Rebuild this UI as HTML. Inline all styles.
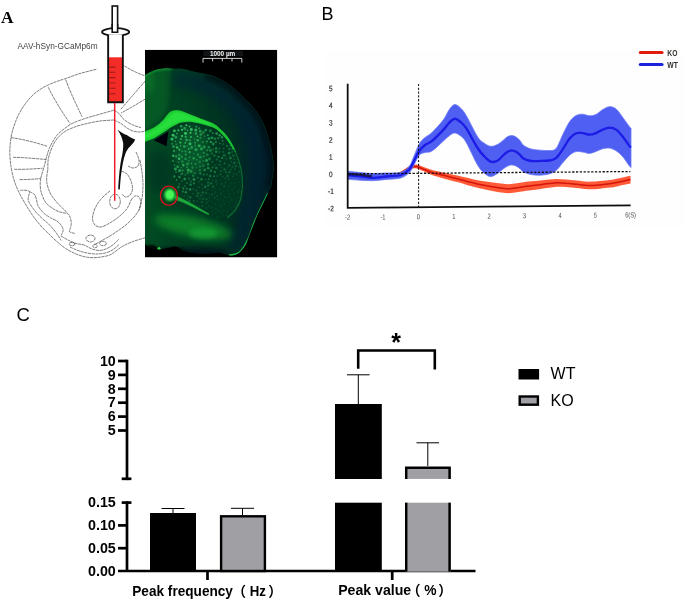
<!DOCTYPE html>
<html><head><meta charset="utf-8"><title>Figure</title>
<style>
html,body{margin:0;padding:0;background:#fff;}
body{width:685px;height:599px;overflow:hidden;font-family:"Liberation Sans","Noto Sans CJK SC",sans-serif;}
svg{display:block}
text{font-family:"Liberation Sans","Noto Sans CJK SC",sans-serif;}
.b{font-weight:bold}
.ser{font-family:"Liberation Serif",serif;font-weight:bold}
</style></head><body>
<svg width="685" height="599" viewBox="0 0 685 599">
<g id="panelA">
<text x="0.9" y="23.4" font-size="17.3" class="ser">A</text>
<text x="17.6" y="48.6" font-size="8.6" fill="#444" textLength="80" lengthAdjust="spacingAndGlyphs">AAV-hSyn-GCaMp6m</text>
<defs>
<clipPath id="mclip"><rect x="145" y="49.7" width="132.3" height="207.8"/></clipPath>
<filter id="b05" x="-20%" y="-20%" width="140%" height="140%"><feGaussianBlur stdDeviation="0.5"/></filter>
<filter id="b07" x="-20%" y="-20%" width="140%" height="140%"><feGaussianBlur stdDeviation="0.7"/></filter>
<filter id="b1" x="-20%" y="-20%" width="140%" height="140%"><feGaussianBlur stdDeviation="1"/></filter>
<filter id="b2" x="-30%" y="-30%" width="160%" height="160%"><feGaussianBlur stdDeviation="2"/></filter>
<filter id="b4" x="-40%" y="-40%" width="180%" height="180%"><feGaussianBlur stdDeviation="4"/></filter>
<filter id="b7" x="-50%" y="-50%" width="200%" height="200%"><feGaussianBlur stdDeviation="7"/></filter>
<linearGradient id="tg" x1="145" y1="0" x2="277" y2="0" gradientUnits="userSpaceOnUse">
<stop offset="0" stop-color="#054a22"/><stop offset="0.3" stop-color="#033d22"/><stop offset="0.7" stop-color="#012e24"/><stop offset="1" stop-color="#001e2a"/></linearGradient>
</defs>
<g fill="none" stroke="#343434" stroke-width="0.7" stroke-dasharray="3.2 0.6" opacity="0.9">
<path d="M96.3 69.3 C93.6 70.0 85.1 72.0 80.0 73.5 C74.9 75.0 70.0 77.0 65.7 78.5 C61.4 80.0 57.6 81.0 54.0 82.5 C50.4 84.0 47.1 85.3 43.8 87.2 C40.5 89.1 36.9 91.5 34.0 94.0 C31.1 96.5 28.6 99.5 26.3 102.5 C24.0 105.5 21.8 108.7 20.0 112.0 C18.2 115.3 16.7 118.5 15.3 122.3 C13.9 126.1 12.4 130.6 11.5 135.0 C10.6 139.4 10.1 144.2 9.9 148.5 C9.7 152.8 10.0 157.1 10.3 161.0 C10.7 164.9 11.2 168.3 12.0 172.0 C12.8 175.7 13.7 179.4 15.0 183.0 C16.3 186.6 17.9 190.1 19.7 193.8 C21.5 197.5 23.8 201.3 26.0 205.0 C28.2 208.7 30.3 212.2 32.8 215.7 C35.3 219.2 38.1 222.7 41.0 226.0 C43.9 229.3 47.6 232.7 50.4 235.4 C53.2 238.2 55.5 240.3 58.0 242.5 C60.5 244.7 62.7 246.6 65.7 248.5 C68.7 250.4 72.3 252.5 76.0 254.0 C79.7 255.5 83.8 256.8 87.6 257.3 C91.4 257.9 95.3 257.7 99.0 257.3 C102.7 256.9 106.7 256.1 109.5 255.1 C112.3 254.0 113.8 252.5 116.0 251.0 C118.2 249.5 119.8 247.9 122.6 246.3 C125.4 244.7 129.2 242.9 133.0 241.5 C136.8 240.1 143.5 238.2 145.6 237.6"/>
<path d="M113.9 110.2 C111.3 110.9 103.3 113.2 98.5 114.6 C93.7 116.0 89.4 117.0 85.0 118.5 C80.6 120.0 75.8 121.7 72.3 123.4 C68.8 125.2 66.6 127.0 64.0 129.0 C61.4 131.0 58.8 133.2 56.9 135.4 C55.0 137.6 53.8 139.8 52.5 142.0 C51.2 144.2 50.2 146.2 49.3 148.5 C48.3 150.8 47.5 153.4 46.8 156.0 C46.1 158.6 45.6 161.2 44.9 163.9 C44.2 166.6 43.2 169.6 42.5 172.0 C41.8 174.4 41.0 177.2 40.7 178.2"/>
<path d="M113.9 120.0 C111.6 120.2 104.4 120.4 100.0 121.0 C95.6 121.6 91.6 122.5 87.6 123.4 C83.6 124.3 79.7 125.2 76.0 126.5 C72.3 127.8 68.5 129.4 65.7 131.0 C63.0 132.6 61.3 134.2 59.5 136.0 C57.7 137.8 56.1 139.7 54.7 142.0 C53.3 144.3 52.1 147.1 51.0 150.0 C49.9 152.9 48.7 156.2 48.2 159.5 C47.7 162.8 47.9 168.2 47.8 170.0"/>
<path d="M48.2 87.2 C54 99 62 112 70 123.4M65.7 79.6 C70 92 77 106 82.1 116.8M11 137.6 C24 139.5 36 142.5 47 146.3M13.1 157.3 C24 157.5 35 158.5 46 159.5M14.2 169.3 C24 169.5 34 169 42.7 168.2M19.5 179.6 C27 179.6 34 179.2 40.5 178.6"/>
<path d="M20.2 190.4 C21.0 190.4 23.5 190.0 25.0 190.2 C26.5 190.4 28.8 190.5 29.4 191.5 C30.0 192.5 28.8 194.5 28.6 196.0 C28.4 197.5 27.8 198.9 28.4 200.7 C29.0 202.5 30.6 205.0 32.0 207.0 C33.4 209.0 34.9 210.9 36.6 212.9 C38.4 214.9 40.5 216.9 42.5 218.8 C44.5 220.7 46.9 222.3 48.8 224.2 C50.7 226.1 52.5 228.1 54.0 230.0 C55.5 231.9 56.8 233.7 58.0 235.4 C59.2 237.2 60.6 239.7 61.1 240.5"/>
<path d="M29.4 191.5 C30.2 192.0 33.3 193.2 34.5 194.5 C35.7 195.8 36.0 197.8 36.5 199.5 C37.0 201.2 36.9 203.0 37.6 204.7 C38.3 206.4 39.3 208.0 40.5 209.5 C41.7 211.0 43.0 212.5 44.7 213.9 C46.4 215.3 48.5 216.6 50.5 217.8 C52.5 219.0 55.2 219.9 57.0 221.1 C58.8 222.3 60.0 223.6 61.0 225.0 C62.0 226.4 62.9 228.1 63.1 229.3 C63.4 230.6 62.8 231.5 62.5 232.5 C62.2 233.5 61.3 234.9 61.1 235.4"/>
<path d="M40.7 178.2 C40.6 179.2 40.2 182.0 40.2 184.0 C40.2 186.0 40.3 188.3 40.7 190.4 C41.1 192.5 41.9 194.8 42.8 196.8 C43.6 198.9 44.4 200.9 45.8 202.7 C47.2 204.4 49.1 205.9 51.0 207.3 C52.9 208.7 55.0 210.0 57.0 210.9 C59.0 211.8 61.1 212.3 63.0 212.8 C64.9 213.3 67.0 213.0 68.2 213.9 C69.5 214.8 70.0 217.0 70.5 218.5 C71.0 220.0 71.3 221.6 71.3 223.1 C71.3 224.6 70.9 226.1 70.6 227.5 C70.3 228.9 69.1 230.4 69.3 231.3 C69.5 232.2 71.0 232.5 72.0 232.8 C73.0 233.2 74.8 233.3 75.4 233.4"/>
<path d="M47.8 170.0 C47.6 171.0 47.0 173.9 46.8 176.0 C46.6 178.1 46.5 180.2 46.8 182.3 C47.1 184.4 47.7 186.6 48.4 188.6 C49.1 190.6 49.7 192.4 50.9 194.5 C52.1 196.6 53.9 198.8 55.6 200.9 C57.3 203.0 59.6 205.3 61.1 206.8 C62.6 208.3 63.5 209.0 64.5 210.0 C65.5 211.0 66.8 212.4 67.2 212.9"/>
<path d="M113.9 120.0 C115.1 120.6 118.8 122.2 121.0 123.5 C123.2 124.8 125.0 126.8 127.0 128.0 C129.0 129.2 130.8 130.3 133.0 131.0 C135.2 131.7 137.9 132.0 140.0 132.0 C142.1 132.0 144.7 131.2 145.6 131.0"/>
<path d="M124.5 66 C131 70 138 73.5 145.3 76M145.3 81 C138 89 129 100 120.4 109.7M145.3 99 C137 104 129 109 121 113M113.9 110.2 C117 111.5 120 114 122 117.5 C126 122 133 126 141 127.5"/>
<path d="M121.0 171.0 C122.0 171.5 125.3 172.3 127.0 174.0 C128.7 175.7 130.1 178.5 131.0 181.0 C131.9 183.5 132.7 186.7 132.5 189.0 C132.3 191.3 131.2 193.7 130.0 195.0 C128.8 196.3 126.8 197.2 125.5 197.0 C124.2 196.8 122.6 194.5 122.0 194.0"/>
<path d="M110.0 191.0 C109.0 191.8 106.0 194.0 104.0 196.0 C102.0 198.0 99.7 200.5 98.0 203.0 C96.3 205.5 94.9 208.3 94.0 211.0 C93.1 213.7 92.3 216.7 92.5 219.0 C92.7 221.3 93.6 223.7 95.0 225.0 C96.4 226.3 98.8 227.2 101.0 227.0 C103.2 226.8 105.5 225.3 108.0 224.0 C110.5 222.7 113.5 220.8 116.0 219.0 C118.5 217.2 121.0 215.0 123.0 213.0 C125.0 211.0 126.7 209.2 128.0 207.0 C129.3 204.8 130.5 201.2 131.0 200.0"/>
<path d="M131.0 200.0 C131.7 199.3 133.7 196.5 135.0 196.0 C136.3 195.5 138.0 195.8 139.0 197.0 C140.0 198.2 141.0 200.8 141.0 203.0 C141.0 205.2 140.2 207.7 139.0 210.0 C137.8 212.3 136.0 214.7 134.0 217.0 C132.0 219.3 129.5 221.8 127.0 224.0 C124.5 226.2 121.8 228.0 119.0 230.0 C116.2 232.0 113.0 234.2 110.0 236.0 C107.0 237.8 103.7 239.5 101.0 241.0 C98.3 242.5 95.2 244.3 94.0 245.0"/>
<path d="M140.0 160.0 C140.3 162.0 141.5 167.8 142.0 172.0 C142.5 176.2 143.0 180.7 143.0 185.0 C143.0 189.3 142.7 193.8 142.0 198.0 C141.3 202.2 139.5 208.0 139.0 210.0"/>
<path d="M136.0 152.0 C136.5 153.3 138.7 157.7 139.0 160.0 C139.3 162.3 139.0 164.7 138.0 166.0 C137.0 167.3 134.7 168.0 133.0 168.0 C131.3 168.0 128.8 166.3 128.0 166.0"/>
<ellipse cx="115" cy="201.5" rx="5.3" ry="7.3"/>
<ellipse cx="72" cy="244" rx="3" ry="1.6"/><ellipse cx="90.5" cy="238.5" rx="4.5" ry="3.4"/><ellipse cx="103" cy="243.5" rx="3.4" ry="2.2"/><ellipse cx="95" cy="246" rx="2.2" ry="1.8"/>
<path d="M61.0 236.0 C62.2 236.7 65.5 238.8 68.0 240.0 C70.5 241.2 73.3 242.7 76.0 243.5 C78.7 244.3 81.3 244.1 84.0 245.0 C86.7 245.9 89.3 248.1 92.0 249.0 C94.7 249.9 97.3 250.7 100.0 250.5 C102.7 250.3 105.7 249.1 108.0 248.0 C110.3 246.9 112.2 245.5 114.0 244.0 C115.8 242.5 118.2 239.8 119.0 239.0"/>
<path d="M70.0 247.0 C71.3 247.6 75.2 249.5 78.0 250.5 C80.8 251.5 83.8 252.4 87.0 253.0 C90.2 253.6 93.7 254.1 97.0 254.0 C100.3 253.9 104.2 253.3 107.0 252.5 C109.8 251.7 112.0 250.3 114.0 249.0 C116.0 247.7 118.2 245.2 119.0 244.5"/>
</g>
<path d="M117.5 129.7 C121 132.5 124 134 126.7 135 C130 137 132.5 138.5 135.2 139.6 C134 143 131 145.5 128.3 148.3 C126.5 151 125.5 153 125 155 C123.8 158.5 123 162 122.5 165 C121.8 169 121.2 173 120.8 176.7 C120.4 181 120 185 119.8 189.4 L118.2 189.2 C118.6 181 119.3 172 120.3 165 C121 160.5 121.8 157 122.5 153.3 C123 150 123.3 147 123.2 143.3 C122.5 138.5 120.5 134 117.5 129.7 Z" fill="#0a0a0a" filter="url(#b05)"/>
<g clip-path="url(#mclip)">
<rect x="145" y="49.7" width="132.3" height="207.8" fill="#000"/>
<g filter="url(#b05)">
<path d="M143.0 77.0 C143.5 76.6 144.1 75.6 146.0 74.5 C147.9 73.4 151.7 71.2 154.7 70.2 C157.7 69.2 161.3 68.8 164.0 68.5 C166.7 68.2 167.7 68.5 171.0 68.6 C174.3 68.7 179.8 68.4 183.9 69.0 C188.0 69.6 191.8 71.1 195.6 72.0 C199.4 72.9 203.2 73.2 207.0 74.3 C210.8 75.4 214.8 76.6 218.7 78.4 C222.6 80.2 226.5 82.5 230.4 85.4 C234.3 88.3 238.5 92.6 242.0 95.9 C245.5 99.2 248.5 102.0 251.4 105.3 C254.3 108.6 257.3 112.2 259.6 116.0 C261.9 119.8 263.6 123.8 265.4 128.4 C267.1 133.0 268.8 138.5 270.1 143.6 C271.4 148.7 272.4 154.4 273.0 158.8 C273.6 163.2 273.7 166.8 273.6 170.0 C273.5 173.2 273.0 174.9 272.5 178.0 C272.0 181.1 271.5 185.8 270.7 188.4 C269.9 191.0 269.1 191.0 267.8 193.5 C266.5 196.0 264.9 200.0 263.1 203.6 C261.4 207.2 259.1 211.4 257.3 215.3 C255.6 219.2 254.0 223.6 252.6 227.0 C251.2 230.4 250.1 233.2 249.0 236.0 C247.9 238.8 247.5 241.2 246.2 243.7 C244.9 246.2 242.7 249.2 241.0 251.0 C239.3 252.8 237.8 253.8 236.0 254.6 C234.2 255.4 232.7 255.8 230.4 255.6 C228.1 255.4 224.4 254.1 222.4 253.6 C220.4 253.1 221.7 252.6 218.4 252.6 C215.1 252.6 208.1 253.8 202.6 253.6 C197.1 253.4 190.0 252.8 185.7 251.6 C181.4 250.4 179.5 247.4 176.7 246.7 C173.9 246.0 171.8 247.1 168.8 247.6 C165.8 248.1 162.0 249.6 158.9 249.5 C155.8 249.4 152.7 248.1 150.0 247.0 C147.3 245.9 144.2 243.7 143.0 243.0 Z" fill="url(#tg)"/>
</g>
<clipPath id="bclip"><path d="M143.0 77.0 C143.5 76.6 144.1 75.6 146.0 74.5 C147.9 73.4 151.7 71.2 154.7 70.2 C157.7 69.2 161.3 68.8 164.0 68.5 C166.7 68.2 167.7 68.5 171.0 68.6 C174.3 68.7 179.8 68.4 183.9 69.0 C188.0 69.6 191.8 71.1 195.6 72.0 C199.4 72.9 203.2 73.2 207.0 74.3 C210.8 75.4 214.8 76.6 218.7 78.4 C222.6 80.2 226.5 82.5 230.4 85.4 C234.3 88.3 238.5 92.6 242.0 95.9 C245.5 99.2 248.5 102.0 251.4 105.3 C254.3 108.6 257.3 112.2 259.6 116.0 C261.9 119.8 263.6 123.8 265.4 128.4 C267.1 133.0 268.8 138.5 270.1 143.6 C271.4 148.7 272.4 154.4 273.0 158.8 C273.6 163.2 273.7 166.8 273.6 170.0 C273.5 173.2 273.0 174.9 272.5 178.0 C272.0 181.1 271.5 185.8 270.7 188.4 C269.9 191.0 269.1 191.0 267.8 193.5 C266.5 196.0 264.9 200.0 263.1 203.6 C261.4 207.2 259.1 211.4 257.3 215.3 C255.6 219.2 254.0 223.6 252.6 227.0 C251.2 230.4 250.1 233.2 249.0 236.0 C247.9 238.8 247.5 241.2 246.2 243.7 C244.9 246.2 242.7 249.2 241.0 251.0 C239.3 252.8 237.8 253.8 236.0 254.6 C234.2 255.4 232.7 255.8 230.4 255.6 C228.1 255.4 224.4 254.1 222.4 253.6 C220.4 253.1 221.7 252.6 218.4 252.6 C215.1 252.6 208.1 253.8 202.6 253.6 C197.1 253.4 190.0 252.8 185.7 251.6 C181.4 250.4 179.5 247.4 176.7 246.7 C173.9 246.0 171.8 247.1 168.8 247.6 C165.8 248.1 162.0 249.6 158.9 249.5 C155.8 249.4 152.7 248.1 150.0 247.0 C147.3 245.9 144.2 243.7 143.0 243.0 Z"/></clipPath>
<g clip-path="url(#bclip)">
<path d="M143 70 L170 66 C171 80 170 98 166 112 C160 121 152 126 143 130 Z" fill="#0c742a" opacity="0.4" filter="url(#b2)"/>
<ellipse cx="148" cy="82" rx="5" ry="11" fill="#14962e" opacity="0.45" filter="url(#b4)"/>
<path d="M143 77.5 C148 72.5 156 69.3 164 68.8 C167 68.6 170 68.9 172 69.2" fill="none" stroke="#1aa838" stroke-width="2.2" opacity="0.75" filter="url(#b1)"/>
<path d="M172.0 72.0 C175.0 72.2 183.7 72.0 190.0 73.0 C196.3 74.0 203.3 75.2 210.0 78.0 C216.7 80.8 224.0 85.3 230.0 90.0 C236.0 94.7 241.3 100.0 246.0 106.0 C250.7 112.0 255.0 119.0 258.0 126.0 C261.0 133.0 262.7 140.7 264.0 148.0 C265.3 155.3 266.3 162.2 266.0 170.0 C265.7 177.8 264.3 186.7 262.0 195.0 C259.7 203.3 255.7 211.7 252.0 220.0 C248.3 228.3 244.0 240.0 240.0 245.0 C236.0 250.0 228.7 253.3 228.0 250.0 C227.3 246.7 233.0 234.2 236.0 225.0 C239.0 215.8 243.7 204.2 246.0 195.0 C248.3 185.8 249.8 177.8 250.0 170.0 C250.2 162.2 248.8 155.0 247.0 148.0 C245.2 141.0 242.5 134.3 239.0 128.0 C235.5 121.7 231.2 115.2 226.0 110.0 C220.8 104.8 214.0 100.3 208.0 97.0 C202.0 93.7 195.7 91.5 190.0 90.0 C184.3 88.5 176.7 88.3 174.0 88.0 Z" fill="#001c3c" opacity="0.45" filter="url(#b4)"/>
<path d="M207.0 74.3 C208.9 75.0 214.8 76.6 218.7 78.4 C222.6 80.2 226.5 82.5 230.4 85.4 C234.3 88.3 238.5 92.6 242.0 95.9 C245.5 99.2 248.5 102.0 251.4 105.3 C254.3 108.6 257.3 112.2 259.6 116.0 C261.9 119.8 263.6 123.8 265.4 128.4 C267.1 133.0 268.8 138.5 270.1 143.6 C271.4 148.7 272.4 154.4 273.0 158.8 C273.6 163.2 273.7 166.8 273.6 170.0 C273.5 173.2 273.0 174.9 272.5 178.0 C272.0 181.1 271.0 186.7 270.7 188.4" fill="none" stroke="#000a14" stroke-width="9" opacity="0.8" filter="url(#b2)"/>
<path d="M207.0 74.3 C208.9 75.0 214.8 76.6 218.7 78.4 C222.6 80.2 226.5 82.5 230.4 85.4 C234.3 88.3 238.5 92.6 242.0 95.9 C245.5 99.2 248.5 102.0 251.4 105.3 C254.3 108.6 257.3 112.2 259.6 116.0 C261.9 119.8 263.6 123.8 265.4 128.4 C267.1 133.0 268.8 138.5 270.1 143.6 C271.4 148.7 272.4 154.4 273.0 158.8 C273.6 163.2 273.7 166.8 273.6 170.0 C273.5 173.2 273.0 174.9 272.5 178.0 C272.0 181.1 271.0 186.7 270.7 188.4" fill="none" stroke="#0c5a3a" stroke-width="0.8" opacity="0.7" filter="url(#b05)"/>
<ellipse cx="158" cy="172" rx="12" ry="22" fill="#003222" opacity="0.6" filter="url(#b4)"/>
<ellipse cx="193" cy="227" rx="40" ry="10" transform="rotate(12 193 227)" fill="#0f8a2c" opacity="0.85" filter="url(#b4)"/>
<ellipse cx="203" cy="233.5" rx="14" ry="5.5" fill="#1cb03c" opacity="0.5" filter="url(#b2)"/>
<ellipse cx="185" cy="254" rx="44" ry="6" fill="#000e1a" opacity="0.85" filter="url(#b2)"/>
<ellipse cx="177.4" cy="254.5" rx="10.5" ry="6" fill="#000d0c" filter="url(#b1)"/>
<ellipse cx="151" cy="253" rx="8" ry="8" fill="#000" filter="url(#b1)"/>
<path d="M171.0 129.0 C172.8 128.2 178.1 125.3 181.6 124.5 C185.1 123.7 188.3 123.7 192.0 124.0 C195.7 124.3 200.3 125.5 203.8 126.5 C207.3 127.5 210.5 128.8 213.0 130.0 C215.5 131.2 216.4 132.2 218.7 134.0 C221.0 135.8 224.4 138.2 226.9 141.0 C229.4 143.8 232.0 147.5 233.9 151.0 C235.8 154.5 237.2 158.0 238.6 162.0 C239.9 166.0 241.4 169.7 242.0 175.0 C242.6 180.3 242.7 189.0 242.0 194.0 C241.3 199.0 240.0 201.7 238.0 205.0 C236.0 208.3 233.0 211.7 230.0 214.0 C227.0 216.3 223.6 218.7 220.0 219.0 C216.4 219.3 212.6 218.0 208.4 216.0 C204.2 214.0 199.1 210.3 195.0 207.0 C190.9 203.7 186.8 199.1 184.0 196.0 C181.2 192.9 179.7 191.6 178.0 188.4 C176.3 185.2 175.0 181.4 174.0 176.7 C173.0 172.0 172.6 165.1 172.2 160.0 C171.8 154.9 171.8 151.1 171.6 145.9 C171.4 140.7 171.1 131.8 171.0 129.0 Z" fill="#003824" opacity="0.9" filter="url(#b1)"/>
<ellipse cx="191" cy="150" rx="18" ry="24" fill="#087434" opacity="0.5" filter="url(#b4)"/>
<g fill="#36c864" filter="url(#b05)"><circle cx="194.7" cy="139.0" r="0.81" opacity="0.48"/><circle cx="209.5" cy="159.0" r="1.49" opacity="0.38"/><circle cx="176.1" cy="172.2" r="0.84" opacity="0.51"/><circle cx="174.6" cy="165.3" r="0.79" opacity="0.64"/><circle cx="176.9" cy="133.4" r="0.99" opacity="0.61"/><circle cx="201.7" cy="201.9" r="1.13" opacity="0.25"/><circle cx="180.7" cy="145.8" r="0.77" opacity="0.79"/><circle cx="215.9" cy="213.1" r="1.03" opacity="0.10"/><circle cx="212.4" cy="161.9" r="1.03" opacity="0.23"/><circle cx="232.1" cy="151.9" r="0.96" opacity="0.33"/><circle cx="182.1" cy="136.0" r="1.07" opacity="1.00"/><circle cx="193.6" cy="200.9" r="0.92" opacity="0.31"/><circle cx="184.7" cy="179.1" r="1.37" opacity="0.54"/><circle cx="216.7" cy="159.6" r="1.08" opacity="0.37"/><circle cx="210.3" cy="130.8" r="1.46" opacity="0.41"/><circle cx="176.2" cy="144.2" r="0.97" opacity="0.44"/><circle cx="219.6" cy="164.8" r="1.06" opacity="0.30"/><circle cx="194.0" cy="179.5" r="1.46" opacity="0.51"/><circle cx="203.7" cy="152.9" r="1.06" opacity="0.49"/><circle cx="227.6" cy="190.0" r="0.71" opacity="0.12"/><circle cx="189.1" cy="178.4" r="1.12" opacity="0.31"/><circle cx="208.8" cy="206.4" r="1.27" opacity="0.10"/><circle cx="223.1" cy="151.8" r="0.85" opacity="0.37"/><circle cx="201.3" cy="195.4" r="1.42" opacity="0.16"/><circle cx="182.6" cy="170.5" r="0.95" opacity="0.62"/><circle cx="225.5" cy="178.3" r="0.91" opacity="0.26"/><circle cx="220.7" cy="180.3" r="0.67" opacity="0.16"/><circle cx="212.6" cy="167.4" r="0.93" opacity="0.43"/><circle cx="230.8" cy="212.9" r="0.68" opacity="0.10"/><circle cx="205.2" cy="186.8" r="1.35" opacity="0.36"/><circle cx="217.3" cy="217.4" r="1.18" opacity="0.10"/><circle cx="199.0" cy="187.2" r="1.05" opacity="0.23"/><circle cx="199.4" cy="206.0" r="0.74" opacity="0.14"/><circle cx="177.6" cy="166.8" r="1.36" opacity="0.59"/><circle cx="229.3" cy="205.4" r="0.70" opacity="0.10"/><circle cx="191.5" cy="163.6" r="0.78" opacity="0.66"/><circle cx="184.3" cy="146.6" r="1.41" opacity="0.64"/><circle cx="188.3" cy="170.1" r="1.51" opacity="0.65"/><circle cx="213.2" cy="149.4" r="0.88" opacity="0.37"/><circle cx="197.8" cy="177.7" r="0.84" opacity="0.40"/><circle cx="238.7" cy="189.2" r="1.04" opacity="0.10"/><circle cx="208.1" cy="182.4" r="1.27" opacity="0.28"/><circle cx="235.0" cy="197.5" r="0.83" opacity="0.10"/><circle cx="199.5" cy="162.1" r="1.49" opacity="0.29"/><circle cx="179.2" cy="184.0" r="1.10" opacity="0.31"/><circle cx="186.6" cy="140.1" r="1.41" opacity="0.64"/><circle cx="195.8" cy="129.9" r="1.50" opacity="0.78"/><circle cx="172.0" cy="139.1" r="1.64" opacity="0.82"/><circle cx="179.1" cy="158.8" r="1.25" opacity="0.83"/><circle cx="215.0" cy="138.8" r="1.39" opacity="0.45"/><circle cx="189.7" cy="157.3" r="0.82" opacity="0.73"/><circle cx="197.5" cy="136.4" r="0.81" opacity="0.85"/><circle cx="204.6" cy="170.0" r="1.44" opacity="0.42"/><circle cx="196.0" cy="149.6" r="1.53" opacity="0.61"/><circle cx="209.0" cy="138.6" r="1.36" opacity="0.59"/><circle cx="209.0" cy="216.0" r="0.78" opacity="0.10"/><circle cx="232.4" cy="189.7" r="1.16" opacity="0.10"/><circle cx="209.3" cy="197.5" r="0.74" opacity="0.17"/><circle cx="195.1" cy="145.7" r="0.97" opacity="0.48"/><circle cx="231.7" cy="200.0" r="1.23" opacity="0.10"/><circle cx="229.3" cy="193.8" r="1.16" opacity="0.10"/><circle cx="187.9" cy="173.1" r="1.07" opacity="0.44"/><circle cx="174.0" cy="151.0" r="1.14" opacity="0.61"/><circle cx="190.1" cy="189.4" r="1.30" opacity="0.44"/><circle cx="239.0" cy="166.6" r="0.87" opacity="0.21"/><circle cx="187.4" cy="146.1" r="0.94" opacity="0.39"/><circle cx="215.7" cy="208.7" r="1.11" opacity="0.10"/><circle cx="230.8" cy="169.6" r="0.91" opacity="0.30"/><circle cx="217.7" cy="199.4" r="1.16" opacity="0.10"/><circle cx="224.5" cy="169.5" r="1.25" opacity="0.32"/><circle cx="222.7" cy="140.8" r="0.83" opacity="0.60"/><circle cx="180.9" cy="139.1" r="1.16" opacity="0.59"/><circle cx="240.6" cy="186.1" r="0.89" opacity="0.10"/><circle cx="181.2" cy="126.3" r="1.27" opacity="0.67"/><circle cx="208.9" cy="211.8" r="0.67" opacity="0.10"/><circle cx="202.4" cy="206.1" r="1.18" opacity="0.18"/><circle cx="189.6" cy="152.2" r="1.08" opacity="0.74"/><circle cx="196.8" cy="167.6" r="0.72" opacity="0.31"/><circle cx="201.4" cy="210.3" r="0.65" opacity="0.14"/><circle cx="207.1" cy="174.5" r="1.09" opacity="0.26"/><circle cx="202.8" cy="142.0" r="1.18" opacity="0.34"/><circle cx="222.8" cy="176.8" r="0.69" opacity="0.30"/><circle cx="194.8" cy="173.2" r="1.42" opacity="0.27"/><circle cx="179.4" cy="177.1" r="1.26" opacity="0.49"/><circle cx="226.1" cy="172.2" r="1.07" opacity="0.29"/><circle cx="235.9" cy="166.2" r="1.14" opacity="0.28"/><circle cx="214.9" cy="172.0" r="1.21" opacity="0.39"/><circle cx="207.9" cy="189.4" r="0.75" opacity="0.29"/><circle cx="203.7" cy="174.6" r="0.94" opacity="0.47"/><circle cx="205.5" cy="212.6" r="1.20" opacity="0.13"/><circle cx="220.9" cy="206.5" r="1.15" opacity="0.10"/><circle cx="177.1" cy="147.4" r="1.22" opacity="0.84"/><circle cx="226.9" cy="208.4" r="0.65" opacity="0.10"/><circle cx="182.8" cy="191.6" r="1.14" opacity="0.43"/><circle cx="218.2" cy="138.3" r="1.00" opacity="0.54"/><circle cx="199.9" cy="170.3" r="1.29" opacity="0.36"/><circle cx="183.3" cy="165.1" r="1.30" opacity="0.71"/><circle cx="185.7" cy="154.6" r="1.06" opacity="0.60"/><circle cx="173.3" cy="155.8" r="1.18" opacity="0.83"/><circle cx="227.2" cy="215.4" r="0.80" opacity="0.10"/><circle cx="179.3" cy="149.7" r="1.10" opacity="0.74"/><circle cx="190.9" cy="137.0" r="0.90" opacity="0.92"/><circle cx="229.3" cy="149.1" r="1.09" opacity="0.42"/><circle cx="211.9" cy="190.1" r="0.96" opacity="0.12"/><circle cx="178.3" cy="130.3" r="1.14" opacity="0.84"/><circle cx="203.8" cy="156.5" r="0.79" opacity="0.64"/><circle cx="208.9" cy="147.2" r="1.21" opacity="0.48"/><circle cx="193.8" cy="153.4" r="0.76" opacity="0.44"/><circle cx="207.0" cy="141.5" r="1.02" opacity="0.61"/><circle cx="196.3" cy="126.7" r="0.92" opacity="0.70"/><circle cx="189.5" cy="126.4" r="1.02" opacity="0.79"/><circle cx="229.3" cy="165.2" r="1.19" opacity="0.26"/><circle cx="206.7" cy="202.6" r="1.20" opacity="0.16"/><circle cx="220.1" cy="216.4" r="0.67" opacity="0.10"/><circle cx="221.5" cy="184.1" r="1.01" opacity="0.21"/><circle cx="200.3" cy="157.3" r="1.49" opacity="0.43"/><circle cx="175.8" cy="137.1" r="1.54" opacity="0.60"/><circle cx="189.9" cy="140.2" r="1.32" opacity="0.40"/><circle cx="191.7" cy="147.5" r="1.45" opacity="0.57"/><circle cx="192.5" cy="167.7" r="1.09" opacity="0.46"/><circle cx="240.1" cy="175.9" r="0.91" opacity="0.10"/><circle cx="193.7" cy="158.2" r="1.30" opacity="0.57"/><circle cx="178.3" cy="162.2" r="0.79" opacity="0.48"/><circle cx="224.5" cy="186.2" r="1.33" opacity="0.12"/><circle cx="234.4" cy="183.3" r="0.85" opacity="0.11"/><circle cx="223.4" cy="200.5" r="0.89" opacity="0.10"/><circle cx="181.8" cy="173.7" r="1.53" opacity="0.35"/><circle cx="228.3" cy="201.9" r="0.77" opacity="0.10"/><circle cx="219.8" cy="189.5" r="0.97" opacity="0.13"/><circle cx="211.1" cy="183.4" r="1.18" opacity="0.32"/><circle cx="215.8" cy="188.3" r="0.71" opacity="0.12"/><circle cx="223.6" cy="148.5" r="0.79" opacity="0.34"/><circle cx="223.1" cy="144.1" r="0.82" opacity="0.41"/><circle cx="223.8" cy="215.7" r="0.87" opacity="0.10"/><circle cx="206.6" cy="160.6" r="1.49" opacity="0.58"/><circle cx="225.7" cy="182.4" r="0.96" opacity="0.18"/><circle cx="219.3" cy="152.0" r="0.81" opacity="0.43"/><circle cx="208.2" cy="168.2" r="1.39" opacity="0.47"/><circle cx="204.6" cy="136.0" r="0.86" opacity="0.44"/><circle cx="229.4" cy="172.3" r="1.34" opacity="0.24"/><circle cx="181.8" cy="157.0" r="1.39" opacity="0.39"/><circle cx="241.9" cy="179.8" r="1.07" opacity="0.10"/><circle cx="191.3" cy="129.5" r="1.42" opacity="0.89"/><circle cx="192.8" cy="193.7" r="0.93" opacity="0.18"/><circle cx="185.5" cy="133.4" r="1.42" opacity="1.00"/><circle cx="195.9" cy="133.5" r="1.30" opacity="0.59"/><circle cx="188.7" cy="149.0" r="1.03" opacity="0.76"/><circle cx="211.9" cy="207.5" r="1.33" opacity="0.10"/><circle cx="224.5" cy="163.4" r="0.85" opacity="0.41"/><circle cx="200.0" cy="166.5" r="1.05" opacity="0.41"/><circle cx="234.7" cy="169.0" r="0.89" opacity="0.23"/><circle cx="237.9" cy="192.1" r="1.31" opacity="0.10"/><circle cx="217.3" cy="196.1" r="1.26" opacity="0.12"/><circle cx="208.7" cy="179.2" r="1.00" opacity="0.36"/><circle cx="199.2" cy="145.8" r="1.56" opacity="0.68"/><circle cx="201.4" cy="148.9" r="1.32" opacity="0.67"/><circle cx="218.7" cy="211.0" r="1.26" opacity="0.10"/><circle cx="195.7" cy="164.1" r="1.15" opacity="0.43"/><circle cx="219.8" cy="143.4" r="0.72" opacity="0.46"/><circle cx="187.5" cy="195.7" r="0.96" opacity="0.19"/><circle cx="187.6" cy="163.8" r="1.55" opacity="0.44"/><circle cx="182.2" cy="161.6" r="1.52" opacity="0.35"/><circle cx="181.9" cy="129.8" r="1.11" opacity="0.95"/><circle cx="234.9" cy="207.2" r="1.08" opacity="0.10"/><circle cx="197.0" cy="201.4" r="1.03" opacity="0.15"/><circle cx="175.4" cy="169.0" r="1.44" opacity="0.67"/><circle cx="185.5" cy="158.9" r="1.14" opacity="0.59"/><circle cx="174.4" cy="130.8" r="1.52" opacity="0.81"/><circle cx="239.0" cy="182.4" r="0.97" opacity="0.10"/><circle cx="229.6" cy="196.9" r="1.14" opacity="0.10"/><circle cx="214.5" cy="155.5" r="0.97" opacity="0.50"/><circle cx="174.4" cy="176.4" r="1.04" opacity="0.59"/><circle cx="190.5" cy="132.8" r="1.10" opacity="0.92"/><circle cx="224.4" cy="203.8" r="1.28" opacity="0.10"/><circle cx="228.6" cy="185.8" r="0.92" opacity="0.11"/><circle cx="180.3" cy="142.6" r="1.15" opacity="0.76"/><circle cx="237.1" cy="159.6" r="0.69" opacity="0.25"/><circle cx="232.6" cy="166.8" r="1.36" opacity="0.15"/><circle cx="190.2" cy="197.3" r="1.36" opacity="0.30"/><circle cx="227.7" cy="176.0" r="1.40" opacity="0.23"/><circle cx="216.7" cy="133.5" r="1.33" opacity="0.64"/><circle cx="182.2" cy="151.3" r="1.12" opacity="0.44"/><circle cx="179.6" cy="170.6" r="1.44" opacity="0.68"/><circle cx="185.8" cy="136.8" r="1.40" opacity="0.55"/><circle cx="205.8" cy="130.0" r="1.18" opacity="0.63"/><circle cx="227.0" cy="145.7" r="0.99" opacity="0.39"/><circle cx="214.0" cy="176.2" r="1.03" opacity="0.38"/><circle cx="201.4" cy="179.2" r="1.18" opacity="0.46"/><circle cx="203.3" cy="165.8" r="1.43" opacity="0.31"/><circle cx="225.4" cy="197.5" r="1.18" opacity="0.10"/><circle cx="227.2" cy="211.5" r="1.03" opacity="0.10"/><circle cx="207.4" cy="154.7" r="1.32" opacity="0.38"/><circle cx="233.1" cy="176.6" r="1.15" opacity="0.14"/><circle cx="197.2" cy="196.1" r="1.26" opacity="0.25"/><circle cx="213.0" cy="186.7" r="1.14" opacity="0.30"/><circle cx="215.1" cy="165.2" r="0.91" opacity="0.21"/><circle cx="213.2" cy="144.0" r="1.46" opacity="0.50"/><circle cx="190.6" cy="184.7" r="1.20" opacity="0.46"/><circle cx="224.2" cy="155.4" r="1.39" opacity="0.32"/><circle cx="233.6" cy="155.6" r="1.44" opacity="0.26"/><circle cx="202.6" cy="192.4" r="1.22" opacity="0.30"/><circle cx="211.9" cy="153.6" r="1.00" opacity="0.41"/><circle cx="186.8" cy="182.9" r="0.99" opacity="0.35"/><circle cx="220.8" cy="193.5" r="0.94" opacity="0.15"/><circle cx="176.6" cy="179.9" r="0.77" opacity="0.67"/><circle cx="216.2" cy="151.7" r="1.34" opacity="0.44"/><circle cx="197.8" cy="154.8" r="1.26" opacity="0.43"/><circle cx="239.5" cy="171.8" r="1.21" opacity="0.19"/><circle cx="196.3" cy="190.5" r="0.97" opacity="0.29"/><circle cx="172.1" cy="143.8" r="0.97" opacity="0.60"/><circle cx="206.4" cy="199.1" r="1.28" opacity="0.19"/><circle cx="221.0" cy="171.3" r="1.01" opacity="0.29"/><circle cx="220.8" cy="198.2" r="0.77" opacity="0.10"/><circle cx="221.2" cy="203.5" r="0.88" opacity="0.10"/><circle cx="195.0" cy="142.6" r="0.91" opacity="0.63"/><circle cx="199.2" cy="128.2" r="1.05" opacity="0.55"/><circle cx="199.9" cy="198.6" r="1.22" opacity="0.19"/><circle cx="216.3" cy="168.1" r="1.26" opacity="0.38"/><circle cx="181.9" cy="181.1" r="1.01" opacity="0.28"/><circle cx="212.2" cy="194.7" r="1.27" opacity="0.17"/><circle cx="193.9" cy="183.4" r="1.15" opacity="0.40"/><circle cx="216.1" cy="148.3" r="1.16" opacity="0.59"/><circle cx="184.8" cy="185.9" r="0.71" opacity="0.54"/><circle cx="186.7" cy="188.6" r="1.18" opacity="0.34"/><circle cx="230.4" cy="158.0" r="1.38" opacity="0.38"/><circle cx="202.0" cy="184.3" r="1.14" opacity="0.18"/><circle cx="237.0" cy="204.5" r="1.05" opacity="0.10"/><circle cx="214.6" cy="197.7" r="1.06" opacity="0.17"/><circle cx="209.2" cy="194.0" r="0.75" opacity="0.24"/><circle cx="216.6" cy="184.2" r="0.89" opacity="0.17"/><circle cx="195.7" cy="205.1" r="0.68" opacity="0.14"/><circle cx="207.3" cy="150.3" r="0.94" opacity="0.50"/><circle cx="184.7" cy="128.4" r="1.62" opacity="0.57"/><circle cx="173.0" cy="161.0" r="1.00" opacity="0.56"/><circle cx="200.9" cy="134.5" r="1.30" opacity="0.55"/><circle cx="238.1" cy="198.0" r="1.08" opacity="0.10"/><circle cx="227.4" cy="167.8" r="0.70" opacity="0.26"/><circle cx="234.0" cy="173.5" r="1.19" opacity="0.12"/><circle cx="205.4" cy="179.8" r="0.72" opacity="0.35"/><circle cx="185.2" cy="142.9" r="0.82" opacity="0.89"/><circle cx="179.4" cy="155.1" r="1.34" opacity="0.46"/><circle cx="231.0" cy="183.4" r="0.94" opacity="0.10"/><circle cx="187.5" cy="130.3" r="0.85" opacity="0.65"/><circle cx="190.0" cy="143.8" r="1.51" opacity="0.84"/><circle cx="212.0" cy="137.8" r="1.36" opacity="0.59"/><circle cx="228.8" cy="179.2" r="1.08" opacity="0.17"/><circle cx="197.7" cy="140.2" r="1.31" opacity="0.61"/><circle cx="189.5" cy="201.0" r="0.98" opacity="0.34"/><circle cx="200.4" cy="137.7" r="1.00" opacity="0.56"/><circle cx="211.0" cy="170.7" r="1.22" opacity="0.45"/><circle cx="215.1" cy="204.0" r="0.88" opacity="0.10"/><circle cx="212.7" cy="133.2" r="1.08" opacity="0.43"/><circle cx="220.0" cy="161.2" r="0.96" opacity="0.41"/><circle cx="209.1" cy="200.9" r="0.78" opacity="0.14"/><circle cx="207.9" cy="135.3" r="0.98" opacity="0.61"/><circle cx="216.1" cy="181.1" r="1.25" opacity="0.16"/><circle cx="193.5" cy="189.2" r="1.06" opacity="0.24"/><circle cx="222.1" cy="157.9" r="1.20" opacity="0.39"/><circle cx="203.5" cy="160.9" r="0.89" opacity="0.35"/><circle cx="212.8" cy="214.2" r="0.83" opacity="0.10"/><circle cx="229.1" cy="153.2" r="1.38" opacity="0.43"/><circle cx="200.2" cy="131.1" r="1.44" opacity="0.60"/><circle cx="185.4" cy="151.4" r="1.14" opacity="0.47"/><circle cx="218.5" cy="156.8" r="1.06" opacity="0.51"/><circle cx="235.0" cy="179.6" r="0.71" opacity="0.11"/><circle cx="216.0" cy="141.9" r="0.88" opacity="0.62"/><circle cx="223.4" cy="191.3" r="0.86" opacity="0.12"/><circle cx="202.4" cy="188.6" r="0.71" opacity="0.31"/><circle cx="241.4" cy="194.8" r="0.97" opacity="0.10"/><circle cx="208.0" cy="164.2" r="1.27" opacity="0.47"/><circle cx="219.3" cy="148.7" r="0.92" opacity="0.34"/><circle cx="231.2" cy="161.6" r="1.13" opacity="0.17"/><circle cx="191.1" cy="171.5" r="1.47" opacity="0.52"/><circle cx="176.2" cy="156.4" r="1.18" opacity="0.57"/><circle cx="185.2" cy="174.9" r="0.78" opacity="0.48"/><circle cx="215.0" cy="192.3" r="1.22" opacity="0.11"/><circle cx="226.2" cy="158.7" r="0.76" opacity="0.36"/><circle cx="210.9" cy="141.9" r="1.12" opacity="0.64"/><circle cx="223.6" cy="210.7" r="0.90" opacity="0.10"/><circle cx="206.0" cy="207.9" r="1.27" opacity="0.10"/><circle cx="183.3" cy="188.5" r="1.13" opacity="0.41"/><circle cx="233.8" cy="193.0" r="0.94" opacity="0.10"/><circle cx="210.1" cy="176.0" r="1.23" opacity="0.38"/><circle cx="217.2" cy="176.1" r="0.86" opacity="0.26"/><circle cx="236.9" cy="174.2" r="1.04" opacity="0.16"/><circle cx="196.7" cy="159.8" r="0.73" opacity="0.61"/><circle cx="237.8" cy="163.3" r="1.00" opacity="0.16"/><circle cx="204.1" cy="147.0" r="1.44" opacity="0.55"/><circle cx="173.1" cy="135.3" r="1.46" opacity="0.94"/><circle cx="234.6" cy="187.0" r="1.08" opacity="0.10"/><circle cx="212.3" cy="201.8" r="0.68" opacity="0.10"/><circle cx="187.3" cy="198.8" r="0.80" opacity="0.32"/><circle cx="221.6" cy="167.3" r="0.85" opacity="0.18"/><circle cx="175.1" cy="141.3" r="0.90" opacity="0.55"/><circle cx="173.5" cy="146.5" r="1.25" opacity="0.69"/><circle cx="230.0" cy="146.0" r="1.06" opacity="0.23"/><circle cx="218.3" cy="205.0" r="1.00" opacity="0.10"/><circle cx="238.0" cy="178.7" r="0.70" opacity="0.10"/><circle cx="184.2" cy="196.1" r="0.80" opacity="0.30"/><circle cx="199.1" cy="181.7" r="0.82" opacity="0.32"/><circle cx="234.0" cy="159.2" r="0.80" opacity="0.31"/><circle cx="205.8" cy="193.0" r="1.32" opacity="0.19"/><circle cx="186.9" cy="167.0" r="0.78" opacity="0.69"/><circle cx="231.6" cy="207.8" r="0.67" opacity="0.10"/><circle cx="198.2" cy="193.2" r="1.25" opacity="0.26"/><circle cx="220.2" cy="174.5" r="1.35" opacity="0.18"/><circle cx="185.9" cy="192.2" r="1.26" opacity="0.46"/><circle cx="234.4" cy="162.9" r="1.35" opacity="0.30"/><circle cx="236.5" cy="200.6" r="0.92" opacity="0.10"/><circle cx="203.2" cy="198.8" r="1.29" opacity="0.18"/><circle cx="221.3" cy="213.1" r="0.79" opacity="0.10"/><circle cx="188.7" cy="160.5" r="0.90" opacity="0.38"/><circle cx="178.4" cy="187.1" r="1.46" opacity="0.36"/><circle cx="232.4" cy="148.8" r="0.96" opacity="0.47"/><circle cx="193.1" cy="175.7" r="1.26" opacity="0.39"/><circle cx="223.1" cy="195.5" r="0.71" opacity="0.10"/><circle cx="234.5" cy="202.8" r="0.82" opacity="0.10"/><circle cx="241.0" cy="191.5" r="0.91" opacity="0.10"/><circle cx="192.6" cy="204.2" r="0.87" opacity="0.15"/><circle cx="203.3" cy="132.3" r="1.52" opacity="0.42"/><circle cx="221.9" cy="137.3" r="1.37" opacity="0.52"/><circle cx="186.4" cy="125.2" r="1.04" opacity="0.98"/><circle cx="212.1" cy="211.0" r="0.93" opacity="0.10"/><circle cx="200.2" cy="173.4" r="1.14" opacity="0.51"/><circle cx="210.4" cy="150.6" r="1.48" opacity="0.42"/><circle cx="219.7" cy="135.3" r="1.30" opacity="0.60"/><circle cx="190.8" cy="181.5" r="1.22" opacity="0.24"/><circle cx="208.3" cy="185.5" r="1.19" opacity="0.30"/><circle cx="212.7" cy="180.6" r="0.82" opacity="0.17"/><circle cx="181.2" cy="167.7" r="0.79" opacity="0.55"/></g>
<path d="M143.0 132.5 C143.5 132.3 144.0 132.0 145.9 131.1 C147.8 130.2 151.9 128.8 154.7 127.0 C157.5 125.2 160.4 122.7 162.9 120.2 C165.4 117.7 167.4 113.7 169.9 112.0 C172.4 110.3 174.7 109.9 178.0 110.3 C181.3 110.7 185.8 112.8 189.7 114.2 C193.6 115.6 197.5 117.4 201.4 118.9 C205.3 120.4 210.0 121.7 213.0 123.3 C216.0 124.9 217.2 126.2 219.5 128.3 C221.8 130.4 224.8 133.1 227.0 136.0 C229.2 138.9 231.5 142.8 233.0 145.5 C234.5 148.2 235.5 150.9 236.0 152.0 L235.2 152.3 C234.6 151.4 233.2 149.0 231.6 146.7 C230.0 144.3 227.8 140.8 225.6 138.2 C223.4 135.6 220.6 132.7 218.5 130.9 C216.4 129.1 215.4 128.6 213.0 127.5 C210.6 126.4 207.3 125.4 203.8 124.5 C200.3 123.6 195.8 122.3 192.1 122.0 C188.4 121.7 184.7 121.8 181.6 122.5 C178.5 123.2 176.3 124.4 173.4 126.0 C170.5 127.6 167.1 130.0 164.0 132.0 C160.9 134.0 157.7 136.3 154.7 137.9 C151.7 139.5 147.8 140.6 145.9 141.4 C144.0 142.2 143.5 142.3 143.0 142.5 Z" fill="#1cc832" filter="url(#b07)"/>
<path d="M143.0 134.0 C144.9 133.2 151.2 131.0 154.7 129.0 C158.2 127.0 161.3 124.4 164.0 122.0 C166.7 119.6 168.7 116.2 171.0 114.5 C173.3 112.8 174.9 111.8 178.0 112.0 C181.1 112.2 185.8 114.2 189.7 115.5 C193.6 116.8 198.0 118.5 201.4 119.8 C204.8 121.0 208.6 122.5 210.0 123.0 L210.0 126.0 C209.0 125.6 206.8 124.4 203.8 123.6 C200.8 122.8 195.8 121.4 192.1 121.0 C188.4 120.6 184.7 120.5 181.6 121.0 C178.5 121.5 176.3 122.7 173.4 124.2 C170.5 125.7 167.1 128.0 164.0 130.0 C160.9 132.0 158.2 134.2 154.7 136.0 C151.2 137.8 144.9 139.8 143.0 140.5 Z" fill="#2ce640" opacity="0.75" filter="url(#b1)"/>
<path d="M234 149 C238 157 241 166 242.2 176 C243 184 242.5 191 241 198 C239 206 234 213 227 218" stroke="#138038" stroke-width="1.1" fill="none" opacity="0.75" filter="url(#b05)"/>
<path d="M153.8 140.3 L168.3 131.6 L166.6 146.3 Z" fill="#02060c" filter="url(#b05)"/>
<path d="M175.5 196 C186 199.8 197 207 208.8 213.8 L208.4 214.8 C197 209 186 203 175.5 199.5 Z" fill="#1ca83a" stroke="#1ca83a" stroke-width="0.5" filter="url(#b05)"/>
<ellipse cx="169.8" cy="194.8" rx="5.6" ry="6.2" fill="#2fe244" filter="url(#b1)"/>
<ellipse cx="169.8" cy="194.5" rx="3.6" ry="4" fill="#46f45a" filter="url(#b05)"/>
<path d="M268 193.5 C264 202 258 213 253 226 C250 236 247 244 241 251 C238 254 234 255.5 229 255" stroke="#22b844" stroke-width="1.8" fill="none" filter="url(#b05)"/>
<path d="M146 73.5 C155 69 165 67.8 172 68.2" stroke="#1a9a3a" stroke-width="1" fill="none" opacity="0.6" filter="url(#b05)"/>
<circle cx="159" cy="248.6" r="1.6" fill="#30d048" filter="url(#b05)"/>
</g>
<ellipse cx="168.9" cy="195.7" rx="8.5" ry="9.6" fill="none" stroke="#e2101e" stroke-width="1.3"/>
<rect x="203.3" y="51" width="39.7" height="5.2" fill="#39424a" opacity="0.3"/>
<text x="222.6" y="56" font-size="7.2" fill="#f6f6f6" text-anchor="middle" class="b" textLength="25.4" lengthAdjust="spacingAndGlyphs">1000 µm</text>
<path d="M203 62.6V58.4H241.8V62.6M212.6 58.4V61.4M222.3 58.4V61.4M232 58.4V61.4" stroke="#e8e8e8" stroke-width="0.9" fill="none"/>
</g>
<g>
<rect x="112.2" y="6" width="5.4" height="26.3" fill="#fff" stroke="#111" stroke-width="1.6"/>
<ellipse cx="115.6" cy="31.9" rx="13.6" ry="3.7" fill="#fff" stroke="#111" stroke-width="1.8"/>
<path d="M112.2 24V32.3H117.6V24" fill="#fff" stroke="#111" stroke-width="1.6"/>
<path d="M108.1 34.5V102.2H122.9V34.5" fill="#fff" stroke="none"/>
<rect x="108.4" y="57.3" width="14.2" height="45" fill="#f42c28"/>
<path d="M108.15 34.8V102.2H122.85V34.8" fill="none" stroke="#111" stroke-width="1.9"/>
<path d="M109.6 67.1H115.4M109.6 72.3H115.4M109.6 77.6H115.4M109.6 83H115.4M109.6 88.3H115.4M109.6 93.7H115.4" stroke="#9c1a1a" stroke-width="1.1"/>
<path d="M114.7 103V200.8" stroke="#ee1c28" stroke-width="1.5"/>
</g>
</g>
<text x="321.5" y="20" font-size="18">B</text>
<defs><filter id="blB" x="-5%" y="-5%" width="110%" height="110%"><feGaussianBlur stdDeviation="0.45"/></filter></defs>
<rect x="324" y="51" width="361" height="176" fill="#fefefe"/>
<g id="panelB" filter="url(#blB)">
<path d="M348.0 172.4 C350.0 172.6 356.0 172.9 360.0 173.3 C364.0 173.7 367.8 174.6 372.0 174.8 C376.2 175.0 380.7 174.6 385.0 174.3 C389.3 174.0 394.8 173.6 398.0 172.8 C401.2 172.0 402.1 170.7 404.0 169.6 C405.9 168.6 407.3 167.2 409.4 166.3 C411.5 165.5 414.1 164.5 416.5 164.6 C418.9 164.8 421.0 166.1 423.6 167.1 C426.2 168.0 429.4 169.3 432.1 170.1 C434.8 170.9 437.2 171.2 440.0 171.8 C442.8 172.4 446.0 173.1 449.0 173.7 C452.0 174.4 455.2 175.0 458.2 175.7 C461.2 176.4 463.9 177.1 467.0 177.8 C470.1 178.5 473.7 179.4 476.5 180.0 C479.3 180.5 481.6 180.9 484.0 181.3 C486.4 181.6 488.5 181.9 491.0 182.3 C493.5 182.6 496.2 183.0 499.0 183.3 C501.8 183.7 504.8 184.2 507.5 184.2 C510.2 184.2 512.6 183.8 515.0 183.5 C517.4 183.2 519.3 182.9 522.0 182.5 C524.7 182.1 527.9 181.7 531.0 181.3 C534.1 181.0 537.4 180.7 540.4 180.4 C543.4 180.1 546.3 179.8 549.0 179.5 C551.7 179.3 554.0 178.9 556.8 178.9 C559.6 178.9 562.7 179.1 566.0 179.4 C569.3 179.7 573.1 180.1 576.8 180.5 C580.5 180.9 584.1 181.6 588.0 181.7 C591.9 181.8 596.3 181.4 600.0 181.1 C603.7 180.8 607.2 180.4 610.0 180.0 C612.8 179.6 614.6 179.3 616.9 178.8 C619.2 178.3 621.7 177.7 624.0 177.2 C626.3 176.7 629.4 176.0 630.5 175.8 L630.5 183.4 C629.4 183.6 626.3 184.3 624.0 184.8 C621.7 185.3 619.2 185.9 616.9 186.4 C614.6 186.9 612.8 187.2 610.0 187.6 C607.2 188.0 603.7 188.4 600.0 188.7 C596.3 189.0 591.9 189.4 588.0 189.3 C584.1 189.2 580.5 188.5 576.8 188.1 C573.1 187.7 569.3 187.2 566.0 187.0 C562.7 186.8 559.6 186.6 556.8 186.7 C554.0 186.8 551.7 187.3 549.0 187.7 C546.3 188.0 543.4 188.5 540.4 189.0 C537.4 189.4 534.1 189.9 531.0 190.3 C527.9 190.7 524.7 191.1 522.0 191.5 C519.3 191.9 517.4 192.2 515.0 192.5 C512.6 192.8 510.2 193.2 507.5 193.2 C504.8 193.2 501.8 192.7 499.0 192.3 C496.2 191.9 493.5 191.2 491.0 190.7 C488.5 190.3 486.4 189.9 484.0 189.3 C481.6 188.8 479.3 188.4 476.5 187.6 C473.7 186.9 470.1 185.9 467.0 185.0 C463.9 184.1 461.2 183.2 458.2 182.3 C455.2 181.5 452.0 180.7 449.0 179.9 C446.0 179.0 442.8 178.2 440.0 177.4 C437.2 176.6 434.8 176.1 432.1 175.1 C429.4 174.1 426.2 172.5 423.6 171.3 C421.0 170.2 418.9 168.7 416.5 168.4 C414.1 168.0 411.5 168.8 409.4 169.5 C407.3 170.1 405.9 171.4 404.0 172.4 C402.1 173.3 401.2 174.5 398.0 175.2 C394.8 175.9 389.3 176.4 385.0 176.7 C380.7 177.0 376.2 177.4 372.0 177.2 C367.8 177.0 364.0 176.1 360.0 175.7 C356.0 175.3 350.0 174.9 348.0 174.8 Z" fill="#ff5a38"/>
<path d="M348.0 173.6 C350.0 173.8 356.0 174.1 360.0 174.5 C364.0 174.9 367.8 175.8 372.0 176.0 C376.2 176.2 380.7 175.8 385.0 175.5 C389.3 175.2 394.8 174.8 398.0 174.0 C401.2 173.2 402.1 172.0 404.0 171.0 C405.9 170.0 407.3 168.7 409.4 167.9 C411.5 167.2 414.1 166.3 416.5 166.5 C418.9 166.7 421.0 168.2 423.6 169.2 C426.2 170.2 429.4 171.7 432.1 172.6 C434.8 173.5 437.2 173.9 440.0 174.6 C442.8 175.3 446.0 176.1 449.0 176.8 C452.0 177.5 455.2 178.2 458.2 179.0 C461.2 179.8 463.9 180.6 467.0 181.4 C470.1 182.2 473.7 183.2 476.5 183.8 C479.3 184.5 481.6 184.9 484.0 185.3 C486.4 185.8 488.5 186.1 491.0 186.5 C493.5 186.9 496.2 187.4 499.0 187.8 C501.8 188.2 504.8 188.7 507.5 188.7 C510.2 188.7 512.6 188.3 515.0 188.0 C517.4 187.7 519.3 187.4 522.0 187.0 C524.7 186.6 527.9 186.2 531.0 185.8 C534.1 185.4 537.4 185.1 540.4 184.7 C543.4 184.3 546.3 183.9 549.0 183.6 C551.7 183.3 554.0 182.9 556.8 182.8 C559.6 182.7 562.7 182.9 566.0 183.2 C569.3 183.4 573.1 183.9 576.8 184.3 C580.5 184.7 584.1 185.4 588.0 185.5 C591.9 185.6 596.3 185.2 600.0 184.9 C603.7 184.6 607.2 184.2 610.0 183.8 C612.8 183.4 614.6 183.1 616.9 182.6 C619.2 182.1 621.7 181.5 624.0 181.0 C626.3 180.5 629.4 179.8 630.5 179.6" fill="none" stroke="#d41408" stroke-width="1.5"/>
<path d="M348.0 171.3 C350.0 171.5 355.9 172.1 360.0 172.5 C364.1 172.9 368.2 173.4 372.5 173.5 C376.8 173.6 381.3 173.2 386.0 173.0 C390.7 172.8 397.0 173.4 400.9 172.2 C404.8 171.0 407.2 168.7 409.4 166.0 C411.6 163.3 412.4 159.7 414.0 156.0 C415.6 152.3 417.5 146.9 419.3 143.8 C421.1 140.7 422.9 139.4 425.0 137.5 C427.1 135.6 429.0 135.4 432.1 132.4 C435.2 129.4 440.7 123.3 443.5 119.6 C446.3 115.9 447.2 112.5 449.0 110.0 C450.8 107.5 452.6 105.0 454.4 104.6 C456.2 104.2 458.0 105.7 460.0 107.5 C462.0 109.3 463.3 110.5 466.2 115.4 C469.1 120.3 474.6 132.1 477.6 136.7 C480.6 141.3 481.8 141.4 484.0 143.0 C486.2 144.6 488.4 146.1 490.6 146.3 C492.8 146.6 495.3 145.5 497.4 144.5 C499.5 143.5 501.4 141.8 503.0 140.5 C504.6 139.2 505.9 137.6 507.3 136.8 C508.8 136.0 510.2 135.6 511.7 135.6 C513.1 135.6 514.6 136.2 516.0 137.0 C517.4 137.8 518.8 139.1 520.0 140.5 C521.2 141.9 521.6 143.8 523.4 145.2 C525.2 146.6 528.2 148.2 531.0 149.0 C533.8 149.8 537.0 149.9 540.0 150.2 C543.0 150.4 546.3 150.8 549.0 150.5 C551.7 150.2 553.7 151.2 556.0 148.6 C558.3 146.0 560.5 139.1 562.7 134.7 C564.9 130.3 567.2 125.2 569.4 122.0 C571.6 118.8 573.8 116.9 576.0 115.6 C578.2 114.3 580.5 114.2 582.7 114.2 C584.9 114.2 587.2 115.8 589.4 115.8 C591.6 115.8 593.8 115.5 596.0 114.5 C598.2 113.5 600.5 110.9 602.7 109.6 C604.9 108.3 607.2 106.8 609.4 106.7 C611.6 106.6 613.9 107.1 616.1 108.9 C618.3 110.7 620.6 114.4 622.8 117.4 C625.0 120.4 628.1 124.9 629.5 126.7 C630.9 128.5 630.8 127.8 631.0 128.0 L631.0 167.5 C630.8 167.3 630.9 167.9 629.5 166.1 C628.1 164.3 625.0 159.4 622.8 156.8 C620.6 154.2 618.3 152.2 616.1 150.8 C613.9 149.4 611.6 148.4 609.4 148.1 C607.2 147.8 604.9 148.2 602.7 148.8 C600.5 149.4 598.2 150.6 596.0 151.4 C593.8 152.2 591.6 153.3 589.4 153.4 C587.2 153.5 584.9 152.4 582.7 152.1 C580.5 151.8 578.2 151.0 576.0 151.6 C573.8 152.2 571.6 153.5 569.4 155.4 C567.2 157.3 564.9 160.3 562.7 162.8 C560.5 165.3 558.3 168.7 556.0 170.6 C553.7 172.5 551.7 173.2 549.0 174.0 C546.3 174.8 543.0 175.1 540.0 175.2 C537.0 175.3 533.8 175.1 531.0 174.5 C528.2 173.9 525.2 172.8 523.4 171.9 C521.6 171.0 521.2 169.8 520.0 168.8 C518.8 167.8 517.4 166.7 516.0 166.0 C514.6 165.3 513.1 164.9 511.7 164.9 C510.2 164.9 508.8 165.5 507.3 166.2 C505.9 166.9 504.6 167.8 503.0 169.0 C501.4 170.2 499.5 172.2 497.4 173.5 C495.3 174.8 492.8 176.7 490.6 176.6 C488.4 176.5 486.2 174.9 484.0 173.0 C481.8 171.1 480.6 170.2 477.6 165.1 C474.6 160.0 469.1 147.3 466.2 142.4 C463.3 137.5 462.0 137.1 460.0 135.5 C458.0 133.9 456.2 132.9 454.4 133.0 C452.6 133.1 450.8 134.7 449.0 136.0 C447.2 137.3 446.3 138.4 443.5 140.9 C440.7 143.4 435.2 149.0 432.1 150.9 C429.0 152.8 427.1 151.8 425.0 152.5 C422.9 153.2 421.1 153.0 419.3 155.1 C417.5 157.2 415.6 162.1 414.0 165.0 C412.4 167.9 411.6 170.3 409.4 172.5 C407.2 174.7 404.8 176.7 400.9 177.9 C397.0 179.1 390.7 179.0 386.0 179.5 C381.3 180.0 376.8 180.6 372.5 180.7 C368.2 180.8 364.1 180.4 360.0 180.2 C355.9 180.0 350.0 179.5 348.0 179.3 Z" fill="#505ef2" stroke="#6a78f5" stroke-width="0.8"/>
<path d="M348.0 175.0 C350.0 175.2 355.9 175.8 360.0 176.3 C364.1 176.8 368.2 177.9 372.5 177.9 C376.8 177.9 381.3 177.0 386.0 176.5 C390.7 176.0 397.0 176.2 400.9 175.0 C404.8 173.8 407.2 171.6 409.4 169.3 C411.6 167.0 412.4 164.1 414.0 161.0 C415.6 157.9 417.5 153.6 419.3 150.9 C421.1 148.2 422.9 146.7 425.0 145.0 C427.1 143.3 429.0 143.5 432.1 140.9 C435.2 138.3 440.7 132.6 443.5 129.6 C446.3 126.6 447.2 124.8 449.0 123.0 C450.8 121.2 452.6 119.0 454.4 118.8 C456.2 118.5 458.0 119.9 460.0 121.5 C462.0 123.1 463.3 123.8 466.2 128.2 C469.1 132.6 474.6 143.4 477.6 148.0 C480.6 152.6 481.8 153.7 484.0 156.0 C486.2 158.3 488.4 160.8 490.6 161.6 C492.8 162.4 495.3 161.8 497.4 160.8 C499.5 159.8 501.4 157.0 503.0 155.5 C504.6 154.0 505.9 152.8 507.3 152.0 C508.8 151.2 510.2 150.4 511.7 150.4 C513.1 150.4 514.6 151.1 516.0 151.8 C517.4 152.5 518.8 153.7 520.0 154.8 C521.2 155.9 521.6 157.5 523.4 158.5 C525.2 159.5 528.2 160.6 531.0 161.0 C533.8 161.4 537.0 161.0 540.0 160.9 C543.0 160.8 546.3 161.0 549.0 160.5 C551.7 160.0 553.7 159.9 556.0 158.1 C558.3 156.2 560.5 152.6 562.7 149.4 C564.9 146.2 567.2 141.4 569.4 138.7 C571.6 136.0 573.8 134.2 576.0 133.3 C578.2 132.4 580.5 132.9 582.7 133.1 C584.9 133.3 587.2 134.7 589.4 134.7 C591.6 134.7 593.8 133.9 596.0 133.1 C598.2 132.2 600.5 130.5 602.7 129.6 C604.9 128.7 607.2 127.7 609.4 127.7 C611.6 127.7 613.9 128.1 616.1 129.6 C618.3 131.1 620.6 133.9 622.8 136.7 C625.0 139.4 628.1 144.3 629.5 146.1 C630.9 147.9 630.8 147.2 631.0 147.4" fill="none" stroke="#1a1ae6" stroke-width="2.3"/>
<path d="M348 174.2 C355 173.5 362 175.2 372 176.2" fill="none" stroke="#101030" stroke-width="2.2" opacity="0.8"/>
<g transform="translate(348 207.7) skewY(-0.48) translate(-348 -207.7)">
<g stroke="#111" fill="none">
<path d="M347.7 83.8V207.8H630.6" stroke-width="1.8"/>
<path d="M418.6 84.5V207.8" stroke-width="1" stroke-dasharray="2.2 1.6"/>
<path d="M348 173.9H630.3" stroke-width="1.3" stroke-dasharray="2.2 1.6"/>
</g>
<g font-size="7.8" fill="#1c1c1c" text-anchor="middle" stroke="#1c1c1c" stroke-width="0.15">
<text transform="translate(330.9 91.0) scale(0.82 1)">5</text>
<text transform="translate(330.9 108.1) scale(0.82 1)">4</text>
<text transform="translate(330.9 125.3) scale(0.82 1)">3</text>
<text transform="translate(330.9 142.5) scale(0.82 1)">2</text>
<text transform="translate(330.9 159.6) scale(0.82 1)">1</text>
<text transform="translate(330.9 176.8) scale(0.82 1)">0</text>
<text transform="translate(330.9 193.9) scale(0.82 1)">-1</text>
<text transform="translate(330.9 211.1) scale(0.82 1)">-2</text>
</g><g font-size="7.4" fill="#4a4a4a" text-anchor="middle">
<text transform="translate(347.6 219.8) scale(0.78 1)">-2</text>
<text transform="translate(383.0 219.8) scale(0.78 1)">-1</text>
<text transform="translate(418.4 219.8) scale(0.78 1)">0</text>
<text transform="translate(453.8 219.8) scale(0.78 1)">1</text>
<text transform="translate(489.2 219.8) scale(0.78 1)">2</text>
<text transform="translate(524.6 219.8) scale(0.78 1)">3</text>
<text transform="translate(560.0 219.8) scale(0.78 1)">4</text>
<text transform="translate(595.4 219.8) scale(0.78 1)">5</text>
<text transform="translate(630.6 219.8) scale(0.78 1)">6(S)</text>
</g>
</g>
<path d="M640.3 52.5H662" stroke="#e01a10" stroke-width="3.1" stroke-linecap="round"/>
<path d="M640.3 64.5H662" stroke="#1a22dc" stroke-width="3.1" stroke-linecap="round"/>
<g font-size="9.4" fill="#2e2e28" class="b"><text transform="translate(667.3 55.8) scale(0.72 1)">KO</text><text transform="translate(667.3 67.8) scale(0.72 1)">WT</text></g>
</g>
<g id="panelC">
<text x="16.6" y="321" font-size="18.5">C</text>
<g stroke="#000" stroke-width="2.7" fill="none">
<path d="M127 359.7V480.1"/>
<path d="M118 361.0H127"/>
<path d="M118 374.9H127"/>
<path d="M118 388.8H127"/>
<path d="M118 402.7H127"/>
<path d="M118 416.6H127"/>
<path d="M118 430.5H127"/>
<path d="M121.7 478.8H131.4"/>
<path d="M127 501.3V571"/>
<path d="M121.7 502.6H131.4"/>
<path d="M118 525.4H127"/>
<path d="M118 548.2H127"/>
<path d="M118 571H475.5"/>
<path d="M207.5 571V580"/>
<path d="M392.2 571V580"/>
</g>
<g class="b" font-size="14.3" text-anchor="end">
<text transform="translate(115.8 365.7) scale(1 1)">10</text>
<text transform="translate(115.8 379.6) scale(1 1)">9</text>
<text transform="translate(115.8 393.5) scale(1 1)">8</text>
<text transform="translate(115.8 407.4) scale(1 1)">7</text>
<text transform="translate(115.8 421.3) scale(1 1)">6</text>
<text transform="translate(115.8 435.2) scale(1 1)">5</text>
<text transform="translate(115.8 507.3) scale(1 1)">0.15</text>
<text transform="translate(115.8 530.1) scale(1 1)">0.10</text>
<text transform="translate(115.8 552.9) scale(1 1)">0.05</text>
<text transform="translate(115.8 575.7) scale(1 1)">0.00</text>
</g>
<rect x="150" y="513" width="46" height="58" fill="#000"/>
<rect x="221.1" y="516.3" width="43.8" height="54.7" fill="#a09fa4" stroke="#000" stroke-width="2.4"/>
<g stroke="#000" stroke-width="1" fill="none">
<path d="M173 513V508.5M161.5 508.5H184.5"/>
<path d="M242.5 515V508.3M231 508.3H254"/>
<path d="M358.3 404V374.8M347 374.8H369.6"/>
<path d="M427.8 466V442.8M416.5 442.8H439"/>
</g>
<rect x="335" y="404" width="46.8" height="75" fill="#000"/>
<rect x="335" y="502.7" width="46.8" height="69" fill="#000"/>
<rect x="405" y="502.7" width="45.8" height="69" fill="#a09fa4"/>
<rect x="405" y="502.7" width="2.45" height="69" fill="#000"/><rect x="448.35" y="502.7" width="2.45" height="69" fill="#000"/>
<rect x="405" y="467.8" width="45.8" height="11.1" fill="#a09fa4"/>
<path d="M406.22 478.9V467.8H449.58V478.9" fill="none" stroke="#000" stroke-width="2.45"/>
<path d="M358.2 368.8V350.5H434.8V369.6" fill="none" stroke="#000" stroke-width="2.6"/>
<text x="396.2" y="351" font-size="25" class="b" text-anchor="middle">*</text>
<text y="595.7" font-size="13.8" class="b"><tspan x="132.3" textLength="100.6" lengthAdjust="spacingAndGlyphs">Peak frequency</tspan><tspan x="232.2">（</tspan><tspan x="249.8" textLength="16.2" lengthAdjust="spacingAndGlyphs">Hz</tspan><tspan x="268.2">）</tspan></text>
<text y="595.3" font-size="13.8" class="b"><tspan x="338.2" textLength="73" lengthAdjust="spacingAndGlyphs">Peak value</tspan><tspan x="406.8">（</tspan><tspan x="424.2">%</tspan><tspan x="438.3">）</tspan></text>
<rect x="518.5" y="369" width="20.6" height="10.5" fill="#000"/>
<rect x="519.7" y="396.5" width="18.2" height="8.2" fill="#a09fa4" stroke="#000" stroke-width="2.4"/>
<text x="550.6" y="379" font-size="16">WT</text>
<text x="550.6" y="405.7" font-size="16">KO</text>
</g>
</svg>
</body></html>
